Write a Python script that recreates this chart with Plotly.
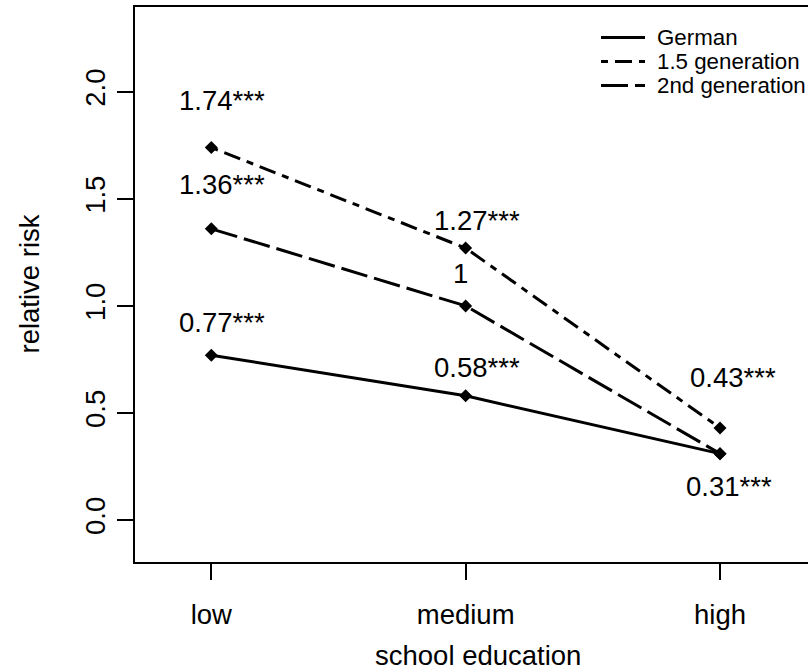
import plotly.graph_objects as go

# school education categories on the x axis
categories = ["low", "medium", "high"]

# relative risk per group
german = [0.77, 0.58, 0.31]
gen_15 = [1.74, 1.27, 0.43]
gen_2nd = [1.36, 1.00, 0.31]

# significance stars per point
german_sig = ["***", "***", "***"]
gen_15_sig = ["***", "***", "***"]
gen_2nd_sig = ["***", "", "***"]

y_ticks = [0.0, 0.5, 1.0, 1.5, 2.0]

FONT = "Liberation Sans, Arial, Helvetica, sans-serif"
W, H = 808, 671
L, R, T, B = 135, 0, 7, 109
PW, PH = W - L - R, H - T - B

xpos = list(range(1, len(categories) + 1))

series = [
    ("German", german, german_sig, "solid"),
    ("1.5 generation", gen_15, gen_15_sig, "7px,7px,17px,7px"),
    ("2nd generation", gen_2nd, gen_2nd_sig, "27px,7px"),
]

# label placement (xshift, yshift) in px; None = label not drawn
label_shift = {
    "German": [(11, 33), (11, 28), (9, -33)],
    "1.5 generation": [(11, 47), (11, 28), (13, 50)],
    "2nd generation": [(11, 44), (-5, 32), None],
}

fig = go.Figure()
annotations = []
for name, vals, sig, dash in series:
    fig.add_trace(go.Scatter(
        x=xpos, y=vals, name=name, mode="lines+markers",
        line=dict(color="black", width=3, dash=dash),
        marker=dict(symbol="diamond", size=10, color="black"),
        showlegend=False,
    ))
    for i, (xv, v, s) in enumerate(zip(xpos, vals, sig)):
        sh = label_shift[name][i]
        if sh is None:
            continue
        annotations.append(dict(
            x=xv, y=v, xref="x", yref="y", text=f"{v:g}{s}",
            showarrow=False, xshift=sh[0], yshift=sh[1],
            xanchor="center", yanchor="middle",
            font=dict(family=FONT, size=27.5, color="black"),
        ))

# legend: line samples and labels in the top right corner
def px_to_paper_x(px):
    return (px - L) / PW

def px_to_paper_y(py):
    return 1 - (py - T) / PH

shapes = []
for k, (name, vals, sig, dash) in enumerate(series):
    row_y = px_to_paper_y(37.5 + 24 * k)
    shapes.append(dict(
        type="line", xref="paper", yref="paper",
        x0=px_to_paper_x(601), x1=px_to_paper_x(645), y0=row_y, y1=row_y,
        line=dict(color="black", width=3, dash=dash),
    ))
    annotations.append(dict(
        x=px_to_paper_x(655), y=row_y, xref="paper", yref="paper",
        text=name, showarrow=False, xanchor="left", yanchor="middle",
        font=dict(family=FONT, size=22.3, color="black"),
    ))

# axis titles
annotations.append(dict(
    x=2.05, y=px_to_paper_y(655), xref="x", yref="paper",
    text="school education", showarrow=False, xanchor="center", yanchor="middle",
    font=dict(family=FONT, size=27.5, color="black"),
))
annotations.append(dict(
    x=px_to_paper_x(29), y=0.5, xref="paper", yref="paper",
    text="relative risk", showarrow=False, textangle=-90,
    xanchor="center", yanchor="middle",
    font=dict(family=FONT, size=27.5, color="black"),
))

fig.update_layout(
    width=W, height=H,
    margin=dict(l=L, r=R, t=T, b=B, pad=0),
    paper_bgcolor="white", plot_bgcolor="white",
    font=dict(family=FONT, size=27.5, color="black"),
    shapes=shapes, annotations=annotations,
    showlegend=False,
)
fig.update_xaxes(
    range=[0.7, 3.346], tickvals=xpos, ticktext=categories,
    showgrid=False, zeroline=False,
    showline=True, linecolor="black", linewidth=1.8, mirror=True,
    ticks="outside", ticklen=16, tickwidth=1.8, tickcolor="black",
    ticklabelstandoff=11,
    tickfont=dict(family=FONT, size=27.5, color="black"),
)
fig.update_yaxes(
    range=[-0.196, 2.396], tickvals=y_ticks, tickformat=".1f",
    showgrid=False, zeroline=False,
    showline=True, linecolor="black", linewidth=1.8, mirror=False,
    ticks="outside", ticklen=16, tickwidth=1.8, tickcolor="black",
    tickangle=-90, ticklabelstandoff=1,
    tickfont=dict(family=FONT, size=27.5, color="black"),
)

fig.write_html("out.html")
